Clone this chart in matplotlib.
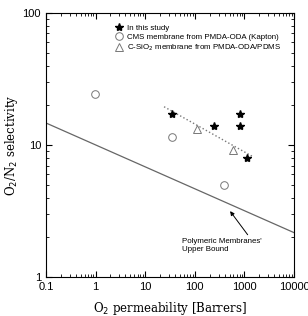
import numpy as np
import matplotlib.pyplot as plt
from matplotlib.ticker import FixedLocator, LogLocator, NullFormatter

plt.rcParams['font.family'] = ['Liberation Sans', 'DejaVu Sans']

# data
star_x = [34.7, 244, 815, 815, 1110]
star_y = [17.1, 14.0, 17.1, 14.0, 8.0]
circ_x = [0.97, 35, 390]
circ_y = [24.2, 11.5, 5.0]
tri_x = [111, 600]
tri_y = [13.2, 9.1]
trend_x = [24, 1490]
trend_y = [19.5, 8.15]
bound_x = [0.1, 10000]
bound_y = [14.7, 2.17]

fig = plt.figure(figsize=(3.08, 3.16), dpi=100)
ax = fig.add_axes([0.149, 0.123, 0.806, 0.836])

ax.plot(bound_x, bound_y, color='#666666', lw=0.9)
ax.plot(trend_x, trend_y, ls=':', color='#777777', lw=1.0)
ax.plot(star_x, star_y, ls='none', marker='*', ms=6, color='black',
        label='In this study')
ax.plot(circ_x, circ_y, ls='none', marker='o', ms=5.5, mfc='white', mec='#777777',
        mew=0.7, label='CMS membrane from PMDA-ODA (Kapton)')
ax.plot(tri_x, tri_y, ls='none', marker='^', ms=6, mfc='white', mec='#777777',
        mew=0.7, label='C-SiO$_2$ membrane from PMDA-ODA/PDMS')

ax.set_xscale('log')
ax.set_yscale('log')
ax.set_xlim(0.1, 10000)
ax.set_ylim(1, 100)

ax.xaxis.set_major_locator(FixedLocator([0.1, 1, 10, 100, 1000, 10000]))
ax.set_xticklabels(['0.1', '1', '10', '100', '1000', '10000'])
ax.yaxis.set_major_locator(FixedLocator([1, 10, 100]))
ax.set_yticklabels(['1', '10', '100'])
ax.xaxis.set_minor_locator(LogLocator(subs=np.arange(2, 10)))
ax.yaxis.set_minor_locator(LogLocator(subs=np.arange(2, 10)))
ax.xaxis.set_minor_formatter(NullFormatter())
ax.yaxis.set_minor_formatter(NullFormatter())
ax.tick_params(which='both', direction='in', top=True, right=True, labelsize=8)
ax.tick_params(which='major', length=4)
ax.tick_params(which='minor', length=2)

ax.set_xlabel('O$_2$ permeability [Barrers]', family='serif', fontsize=8.5, labelpad=6)
ax.set_ylabel('O$_2$/N$_2$ selectivity', family='serif', fontsize=8.5, labelpad=2)

ax.annotate("Polymeric Membranes'\nUpper Bound", xy=(513, 3.16), xytext=(55, 1.75),
            fontsize=5.7, ha='left', va='center',
            arrowprops=dict(arrowstyle='-|>', color='black', lw=0.7, mutation_scale=6,
                            shrinkA=0, shrinkB=0, relpos=(0.85, 1.0)))

ax.legend(loc='upper left', bbox_to_anchor=(0.245, 0.985), frameon=False, fontsize=5.7,
          handletextpad=0.4, labelspacing=0.2, handlelength=1.2)

fig.savefig('out.png', dpi=100)
